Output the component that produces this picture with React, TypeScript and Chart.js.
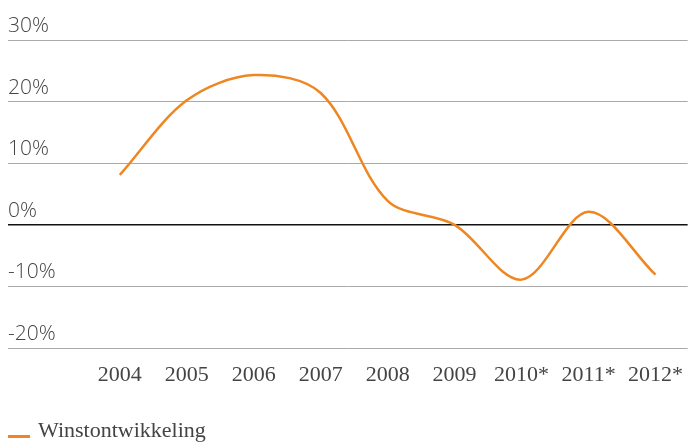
import React, { useEffect, useRef } from "react";
import { Chart, registerables } from "chart.js";

Chart.register(...registerables);

const categories = ["2004", "2005", "2006", "2007", "2008", "2009", "2010*", "2011*", "2012*"];
const winst = [8.1, 20.2, 24.3, 21.4, 3.9, 0.0, -8.9, 2.1, -8.1];
const seriesName = "Winstontwikkeling";
const yTicks = [-20, -10, 0, 10, 20, 30];

const ORANGE = "#EE8722";
const LABEL_FONT = "'Liberation Serif', serif";

export default function App() {
  const ref = useRef<HTMLCanvasElement | null>(null);

  useEffect(() => {
    document.body.style.margin = "0";
    document.body.style.overflow = "hidden";
    if (!ref.current) return;
    const marker = document.createElement("canvas");
    marker.width = 25;
    marker.height = 16;
    const mctx = marker.getContext("2d")!;
    mctx.fillStyle = ORANGE;
    mctx.fillRect(3, 12, 22, 3);

    const chart = new Chart(ref.current, {
      type: "line",
      data: {
        datasets: [
          {
            label: seriesName,
            data: winst.map((v, i) => ({ x: i, y: v })),
            borderColor: ORANGE,
            backgroundColor: ORANGE,
            borderWidth: 2.5,
            pointRadius: 0,
            tension: 0.33,
            fill: false,
          },
        ],
      },
      options: {
        animation: false,
        responsive: false,
        layout: { padding: { top: 40, left: 8, right: 0, bottom: 0 } },
        plugins: {
          tooltip: { enabled: false },
          legend: {
            position: "bottom",
            align: "start",
            labels: {
              usePointStyle: true,
              pointStyle: marker as any,
              pointStyleWidth: 19,
              boxHeight: 16,
              padding: 0,
              color: "#444",
              font: { family: LABEL_FONT, size: 22 },
            },
          },
        },
        scales: {
          x: {
            type: "linear",
            min: -1.67,
            max: 8.48,
            border: { display: false },
            grid: { display: false },
            afterFit: (axis: any) => {
              axis.height = 72;
            },
            ticks: {
              stepSize: 1,
              includeBounds: false,
              autoSkip: false,
              maxRotation: 0,
              padding: 6,
              color: "#444",
              font: { family: LABEL_FONT, size: 22 },
              callback: (v: any) =>
                Number.isInteger(v) && v >= 0 && v < categories.length ? categories[v] : "",
            },
          },
          y: {
            min: -20,
            max: 30,
            border: { display: false },
            afterBuildTicks: (axis: any) => {
              axis.ticks = yTicks.map((v) => ({ value: v }));
            },
            grid: {
              drawTicks: false,
              color: (ctx: any) => (ctx.tick && ctx.tick.value === 0 ? "#111" : "#aaaaaa"),
              lineWidth: (ctx: any) => (ctx.tick && ctx.tick.value === 0 ? 1.5 : 1),
            },
            ticks: {
              mirror: true,
              padding: 0,
              labelOffset: -14,
              color: "#444",
              font: { family: "'Open Sans', sans-serif", size: 21, weight: 300 as any },
              callback: (v: any) => `${v}%`,
            },
          },
        },
      },
    });
    return () => chart.destroy();
  }, []);

  return (
    <div style={{ width: 689, height: 442, overflow: "hidden" }}>
      <canvas ref={ref} width={689} height={452} style={{ display: "block", width: 689, height: 452 }} />
    </div>
  );
}
